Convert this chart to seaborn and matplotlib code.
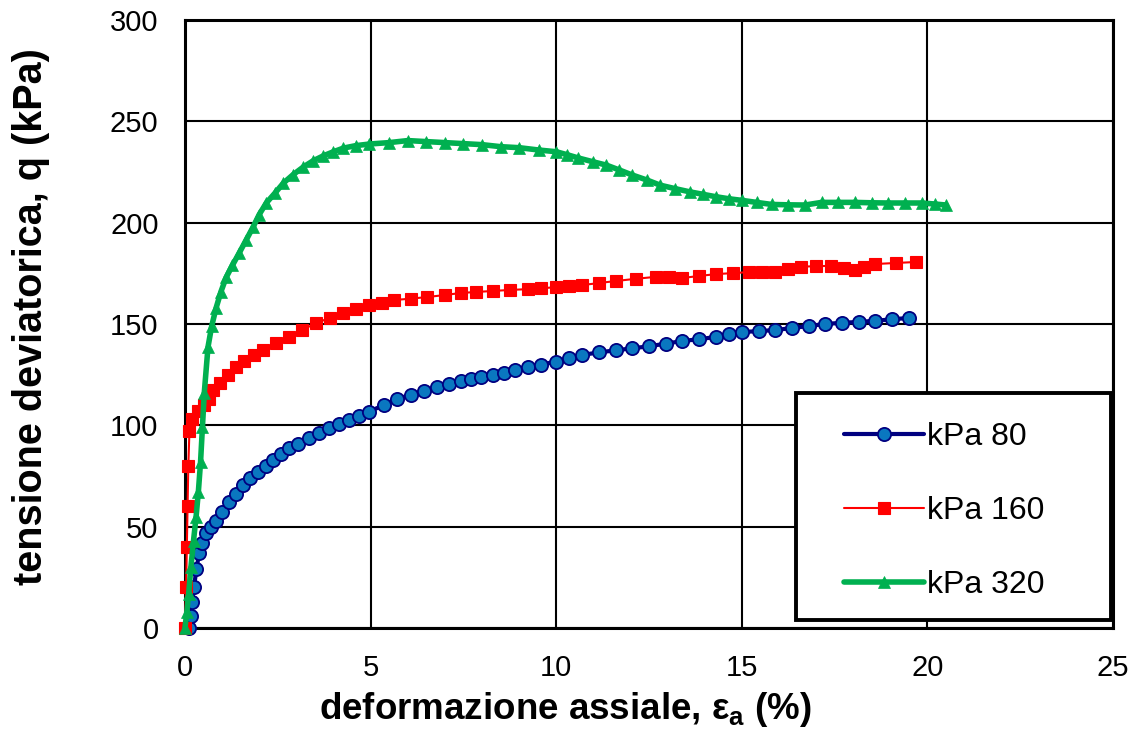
import matplotlib
matplotlib.use("Agg")
import matplotlib.pyplot as plt
import seaborn as sns
from matplotlib.patches import Rectangle

# ---- data ----
x80 = [0.12, 0.15, 0.19, 0.24, 0.31, 0.38, 0.47, 0.56, 0.69, 0.83, 1.0, 1.18, 1.37, 1.56, 1.76,
       1.96, 2.17, 2.37, 2.58, 2.8, 3.05, 3.33, 3.6, 3.87, 4.14, 4.41, 4.68, 4.95, 5.35, 5.7,
       6.08, 6.45, 6.8, 7.1, 7.43, 7.7, 7.97, 8.3, 8.6, 8.9, 9.24, 9.6, 10.0, 10.35, 10.7,
       11.15, 11.6, 12.05, 12.5, 12.95, 13.4, 13.85, 14.3, 14.65, 15.0, 15.45, 15.9, 16.35,
       16.8, 17.25, 17.7, 18.15, 18.6, 19.05, 19.5]
q80 = [0, 6, 13, 20, 29, 37, 42, 47, 50, 53, 57, 62, 66, 70.5, 74,
       77, 80, 83, 86, 88.8, 91, 93.7, 96, 98.7, 100.5, 102.6, 104.5, 106.6, 110, 113,
       115, 117, 119, 120.5, 122, 123, 124, 125, 126, 127.5, 128.8, 130, 131.4, 133, 134.7,
       136, 137, 138, 139, 140.3, 141.6, 142.5, 143.6, 145, 146, 146.5, 147, 148,
       149, 150, 150.6, 151, 151.6, 152.3, 153]

x160 = [0.0, 0.03, 0.05, 0.07, 0.09, 0.12, 0.2, 0.35, 0.5, 0.65, 0.76, 0.95, 1.15, 1.38, 1.6,
        1.85, 2.11, 2.45, 2.81, 3.15, 3.54, 3.9, 4.27, 4.62, 4.97, 5.3, 5.62, 6.08, 6.53, 7.0,
        7.43, 7.85, 8.3, 8.75, 9.24, 9.6, 10.0, 10.35, 10.7, 11.15, 11.6, 12.15, 12.7, 13.05,
        13.4, 13.85, 14.3, 14.75, 15.2, 15.55, 15.9, 16.25, 16.6, 17.0, 17.4, 17.75, 18.05,
        18.3, 18.6, 19.15, 19.7]
q160 = [0, 20, 40, 60, 80, 97, 103, 107, 110, 113, 117.4, 121, 125, 128.8, 131.5,
        134.5, 137, 140.5, 143.6, 147, 150.5, 153, 155.4, 157.5, 159.3, 160.5, 161.8, 162.5, 163.3, 164.3,
        165.3, 165.8, 166.3, 166.8, 167.2, 167.6, 168.2, 168.8, 169.2, 170.2, 171.2, 172.3, 173.3, 173,
        172.7, 173.7, 174.6, 175.1, 175.6, 175.7, 175.8, 177, 178.3, 178.5, 178.7, 177.6, 176.6,
        178, 179.6, 180.1, 180.6]

x320 = [0.0, 0.05, 0.1, 0.16, 0.23, 0.3, 0.36, 0.42, 0.47, 0.52, 0.62, 0.72, 0.84, 0.97, 1.11,
        1.28, 1.46, 1.65, 1.84, 2.0, 2.19, 2.42, 2.65, 2.9, 3.19, 3.45, 3.73, 4.0, 4.27, 4.6,
        4.97, 5.5, 6.0, 6.5, 7.0, 7.5, 8.0, 8.5, 9.0, 9.55, 10.0, 10.3, 10.6, 11.0, 11.35,
        11.7, 12.05, 12.45, 12.8, 13.2, 13.6, 13.95, 14.3, 14.65, 15.0, 15.4, 15.8, 16.25,
        16.7, 17.15, 17.6, 18.05, 18.5, 18.95, 19.4, 19.85, 20.2, 20.5]
q320 = [0, 8, 17, 30, 43, 55, 67, 82, 99, 116, 138.6, 149, 158, 166, 173,
        179, 185, 191.5, 198, 204, 209.7, 214.5, 219.5, 223.5, 227.5, 230.5, 233, 235, 236.8, 238,
        238.8, 239.5, 240.5, 240, 239.5, 239, 238.5, 237.5, 237, 235.8, 235, 233.5, 231.9, 230, 228.4,
        226, 223.5, 221, 218.5, 216.8, 215.2, 214, 212.8, 211.8, 211, 210, 209, 208.8,
        208.7, 210, 210, 210, 209.8, 209.7, 209.7, 209.7, 209.2, 208.7]

labels = ["kPa 80", "kPa 160", "kPa 320"]
x_ticks = [0, 5, 10, 15, 20, 25]
y_ticks = [0, 50, 100, 150, 200, 250, 300]

# ---- style ----
sns.set_style("white")
plt.rcParams["font.family"] = ["Liberation Sans", "DejaVu Sans"]
plt.rcParams["mathtext.fontset"] = "custom"
plt.rcParams["mathtext.rm"] = "Liberation Sans"
plt.rcParams["mathtext.bf"] = "Liberation Sans:bold"
for k in ["text.color", "axes.labelcolor", "xtick.color", "ytick.color"]:
    plt.rcParams[k] = "black"

fig = plt.figure(figsize=(11.39, 7.35), dpi=100)
ax = fig.add_axes([0.1624, 0.1456, 0.8148, 0.8272])

common = dict(ax=ax, sort=False, estimator=None, clip_on=False)
sns.lineplot(x=x80, y=q80, color="#000080", linewidth=3, marker="o", markersize=9.5,
             markerfacecolor="#0A77C0", markeredgecolor="#000080", markeredgewidth=1.3,
             label=labels[0], zorder=3, **common)
sns.lineplot(x=x160, y=q160, color="#FF0000", linewidth=1.5, marker="s", markersize=8.5,
             markerfacecolor="#FF0000", markeredgecolor="#FF0000", markeredgewidth=0.8,
             label=labels[1], zorder=3, **common)
sns.lineplot(x=x320, y=q320, color="#00B050", linewidth=4, marker="^", markersize=8.5,
             markerfacecolor="#00B050", markeredgecolor="#00B050", markeredgewidth=0.5,
             label=labels[2], zorder=3, **common)

ax.set_xlim(0, 25)
ax.set_ylim(0, 300)
ax.set_xticks(x_ticks)
ax.set_yticks(y_ticks)
ax.grid(True, color="black", linewidth=1.5)
ax.set_axisbelow(True)
for side, sp in ax.spines.items():
    sp.set_color("black")
    sp.set_linewidth(2.2)
    sp.set_visible(True)
ax.tick_params(axis="y", length=0, pad=19, labelsize=21, labelcolor="black")
ax.tick_params(axis="x", length=0, pad=19, labelsize=21, labelcolor="black")

ax.set_ylabel("tensione deviatorica, q (kPa)", fontsize=28.5, fontweight="bold", color="black")
ax.yaxis.set_label_coords(-0.145, 0.5115)
ax.set_xlabel(r"deformazione assiale, ε$_{\mathbf{a}}$ (%)", fontsize=26.5, fontweight="bold",
              color="black")
ax.xaxis.set_label_coords(0.41, -0.102)

# legend box
rect = Rectangle((0.658, 0.013), 0.340, 0.3735, transform=ax.transAxes, facecolor="white",
                 edgecolor="black", linewidth=2.8, zorder=4, clip_on=False)
ax.add_patch(rect)
handles, labs = ax.get_legend_handles_labels()
leg = ax.legend(handles, labs, loc="center", bbox_to_anchor=(0.818, 0.192), frameon=False,
                fontsize=23, labelspacing=1.38, handlelength=2.5, handletextpad=0.1)
leg.set_zorder(5)
for t in leg.get_texts():
    t.set_color("black")

fig.savefig("out.png", dpi=100)
